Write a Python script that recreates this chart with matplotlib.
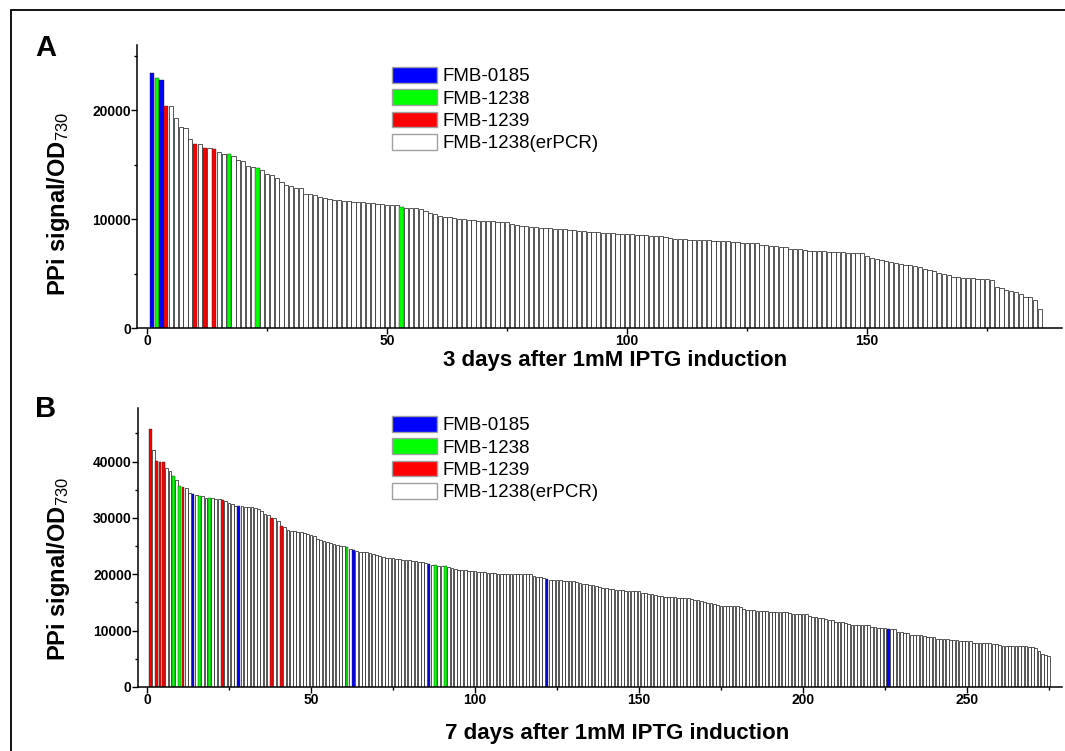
import matplotlib
matplotlib.use('Agg')
import matplotlib.pyplot as plt
from matplotlib.patches import Patch, Rectangle
from matplotlib.ticker import MultipleLocator

plt.rcParams['font.family'] = ['Liberation Sans', 'DejaVu Sans']
plt.rcParams['mathtext.fontset'] = 'custom'
plt.rcParams['mathtext.rm'] = 'Liberation Sans'
plt.rcParams['mathtext.default'] = 'rm'

# Legend entries
strains = ['FMB-0185', 'FMB-1238', 'FMB-1239', 'FMB-1238(erPCR)']
strain_colors = ['#0000ff', '#00ff00', '#ff0000', '#ffffff']

# Panel A: 3 days after induction (sorted PPi signal / OD730)
day3_values = [
    23450, 23000, 22800, 20400, 20400, 19250, 18450, 18380, 17350, 16950,
    16880, 16580, 16540, 16450, 16210, 16030, 16000, 15810, 15480, 15350,
    14920, 14800, 14710, 14530, 14130, 14040, 13740, 13420, 13120, 13060,
    12900, 12820, 12350, 12300, 12200, 12050, 11960, 11840, 11800, 11750,
    11680, 11650, 11620, 11590, 11560, 11530, 11470, 11380, 11350, 11320,
    11290, 11260, 11130, 11070, 11040, 10980, 10890, 10770, 10580, 10460,
    10310, 10220, 10160, 10100, 10060, 10000, 9950, 9900, 9860, 9830,
    9810, 9790, 9770, 9755, 9725, 9600, 9480, 9360, 9330, 9300,
    9240, 9200, 9180, 9150, 9120, 9080, 9050, 9020, 8990, 8930,
    8870, 8840, 8810, 8780, 8750, 8720, 8690, 8660, 8650, 8620,
    8600, 8560, 8530, 8500, 8470, 8440, 8410, 8350, 8260, 8200,
    8170, 8140, 8130, 8100, 8080, 8070, 8050, 8010, 8000, 7980,
    7950, 7890, 7860, 7830, 7820, 7800, 7770, 7640, 7580, 7540,
    7500, 7470, 7450, 7280, 7250, 7240, 7190, 7120, 7090, 7060,
    7030, 7020, 7000, 6970, 6940, 6910, 6880, 6870, 6850, 6600,
    6450, 6300, 6210, 6150, 6060, 5930, 5870, 5810, 5750, 5690,
    5630, 5380, 5320, 5260, 5080, 4960, 4830, 4710, 4650, 4590,
    4560, 4550, 4530, 4500, 4470, 4410, 3790, 3640, 3490, 3400,
    3330, 3120, 2880, 2820, 2570, 1780,
]
day3_fmb0185 = [1, 3]
day3_fmb1238 = [2, 17, 23, 53]
day3_fmb1239 = [4, 10, 12, 14]

# Panel B: 7 days after induction
day7_values = [
    45700, 42000, 40050, 40000, 39950, 38900, 38300, 37500, 36800, 35600,
    35500, 35300, 34400, 34250, 34100, 33950, 33850, 33550, 33500, 33480,
    33430, 33300, 33150, 32950, 32650, 32400, 32200, 32150, 32050, 32000,
    31950, 31850, 31750, 31650, 31200, 30750, 30450, 30050, 30000, 29400,
    28600, 28400, 27900, 27700, 27650, 27560, 27500, 27380, 27200, 27020,
    26730, 26260, 26020, 25840, 25660, 25550, 25370, 25190, 25070, 24950,
    24770, 24480, 24360, 24180, 24000, 23950, 23880, 23770, 23590, 23410,
    23170, 23060, 22940, 22900, 22820, 22760, 22700, 22600, 22530, 22470,
    22400, 22320, 22230, 22100, 21990, 21870, 21690, 21570, 21540, 21510,
    21450, 21350, 21100, 20920, 20800, 20750, 20690, 20630, 20570, 20510,
    20450, 20400, 20340, 20270, 20220, 20160, 20120, 20100, 20080, 20060,
    20050, 20040, 20030, 20020, 20000, 19990, 19970, 19750, 19600, 19480,
    19350, 19250, 19050, 19000, 18960, 18920, 18880, 18840, 18800, 18760,
    18600, 18430, 18300, 18200, 18100, 18020, 17960, 17800, 17650, 17500,
    17400, 17300, 17250, 17200, 17150, 17100, 17050, 17000, 16980, 16950,
    16700, 16600, 16500, 16420, 16360, 16100, 16060, 16020, 15980, 15940,
    15900, 15860, 15820, 15790, 15770, 15600, 15500, 15400, 15300, 15000,
    14900, 14850, 14800, 14500, 14450, 14420, 14400, 14380, 14350, 14300,
    14200, 13800, 13700, 13650, 13600, 13550, 13500, 13480, 13460, 13300,
    13280, 13270, 13260, 13240, 13220, 13200, 13000, 12980, 12960, 12940,
    12920, 12600, 12500, 12420, 12250, 12180, 12000, 11900, 11850, 11550,
    11500, 11450, 11400, 11100, 11050, 11020, 11000, 10980, 10960, 10940,
    10700, 10600, 10550, 10500, 10450, 10300, 10280, 10250, 9800, 9700,
    9650, 9600, 9300, 9250, 9200, 9150, 9100, 8900, 8850, 8800,
    8600, 8550, 8520, 8500, 8300, 8280, 8260, 8240, 8220, 8200,
    8180, 7850, 7800, 7780, 7760, 7740, 7720, 7700, 7680, 7400,
    7350, 7320, 7300, 7280, 7260, 7240, 7220, 7200, 7180, 7160,
    6900, 6300, 5800, 5600, 5500,
]
day7_fmb0185 = [14, 28, 63, 86, 122, 226]
day7_fmb1238 = [8, 10, 16, 19, 61, 88, 91]
day7_fmb1239 = [1, 3, 4, 5, 11, 23, 38, 41]


def bar_colors(n, blue, green, red):
    cols = [strain_colors[3]] * n
    for i in blue:
        cols[i - 1] = strain_colors[0]
    for i in green:
        cols[i - 1] = strain_colors[1]
    for i in red:
        cols[i - 1] = strain_colors[2]
    return cols


W, H = 1065, 751
fig = plt.figure(figsize=(W / 100, H / 100), dpi=100)


def px_rect(left, top, right, bottom):
    return [left / W, 1 - bottom / H, (right - left) / W, (bottom - top) / H]


def setup_panel(ax, values, colors, xlim, ymax, xlabel, xlab_pos, ylab_pos, leg_top):
    x = list(range(1, len(values) + 1))
    widths = [0.55 if c == '#ffffff' else 0.3 for c in colors]
    ax.bar(x, values, width=0.85, color=colors, edgecolor='#2a2a2a', linewidth=widths)
    ax.set_xlim(*xlim)
    ax.set_ylim(0, ymax)
    for s in ['top', 'right']:
        ax.spines[s].set_visible(False)
    for s in ['left', 'bottom']:
        ax.spines[s].set_linewidth(1.1)
    ax.xaxis.set_major_locator(MultipleLocator(50))
    ax.xaxis.set_minor_locator(MultipleLocator(25))
    ax.yaxis.set_major_locator(MultipleLocator(10000))
    ax.yaxis.set_minor_locator(MultipleLocator(5000))
    ax.tick_params(which='major', direction='out', length=4, width=1, labelsize=10, pad=0.5)
    ax.tick_params(which='minor', direction='out', length=2.5, width=1)
    for lab in ax.get_xticklabels() + ax.get_yticklabels():
        lab.set_fontweight('bold')
    ax.set_xlabel(xlabel, fontsize=16, fontweight='bold')
    ax.xaxis.set_label_coords(*xlab_pos)
    ax.set_ylabel(r'PPi signal/OD$_{730}$', fontsize=17, fontweight='bold')
    ax.yaxis.set_label_coords(*ylab_pos)

    handles = [Patch(facecolor=c, edgecolor='#a0a0a0', linewidth=1) for c in strain_colors]
    ax.legend(handles, strains, loc='upper left', bbox_to_anchor=(392 / W, 1 - leg_top / H),
              bbox_transform=fig.transFigure, frameon=False, fontsize=13.5,
              handlelength=2.4, handleheight=0.9, labelspacing=0.22,
              handletextpad=0.3, borderpad=0, borderaxespad=0)


axA = fig.add_axes(px_rect(137, 45, 1062, 328))
setup_panel(axA, day3_values,
            bar_colors(len(day3_values), day3_fmb0185, day3_fmb1238, day3_fmb1239),
            (-2.1, 190.6), 26000, '3 days after 1mM IPTG induction',
            (0.517, -0.077), (-0.070, 0.438), 67)

axB = fig.add_axes(px_rect(138, 408, 1062, 687))
setup_panel(axB, day7_values,
            bar_colors(len(day7_values), day7_fmb0185, day7_fmb1238, day7_fmb1239),
            (-2.74, 279.0), 49500, '7 days after 1mM IPTG induction',
            (0.519, -0.128), (-0.071, 0.423), 416)

# panel letters
fig.text(35 / W, 1 - 48 / H, 'A', fontsize=21, fontweight='bold', ha='left', va='center')
fig.text(35 / W, 1 - 409 / H, 'B', fontsize=21, fontweight='bold', ha='left', va='center')

# outer frame
fig.patches.append(Rectangle((11 / W, -0.05), 1.2, (H - 10) / H + 0.05,
                             transform=fig.transFigure, fill=False,
                             edgecolor='black', linewidth=1.3))

fig.savefig('out.png', dpi=100)
